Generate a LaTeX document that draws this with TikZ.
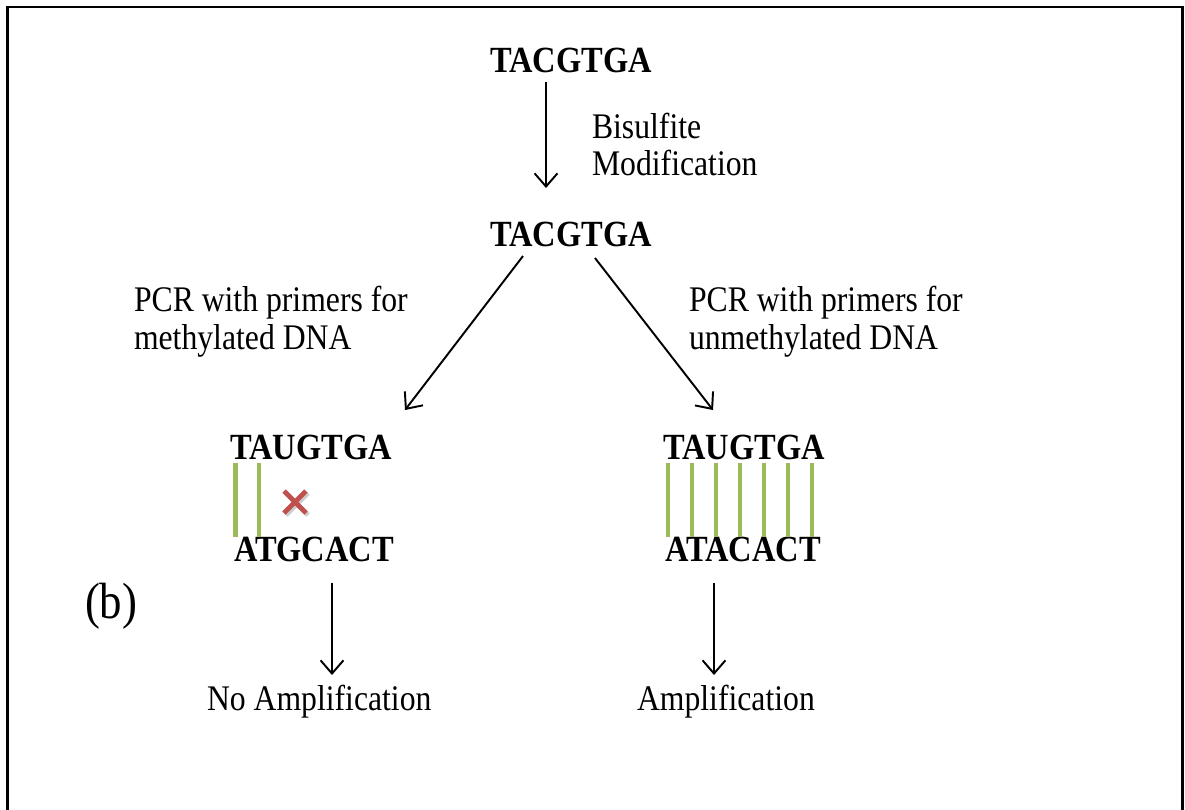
\documentclass[tikz,border=0pt]{standalone}
\usepackage{fontspec}
\setmainfont[FakeStretch=0.88]{Liberation Serif}
\usetikzlibrary{arrows.meta}
\definecolor{pairgreen}{HTML}{9BBB59}
\definecolor{crossred}{HTML}{C0504D}
\tikzset{
  seq/.style={font=\fontsize{21}{23}\selectfont\bfseries},
  lbl/.style={font=\fontsize{20.5}{22}\selectfont},
  arr/.style={line width=1.1pt, -{Straight Barb[length=7.5pt,width=13pt]}}
}
\begin{document}
\begin{tikzpicture}[x=0.02cm, y=-0.02cm, every node/.style={inner sep=0pt, outer sep=0pt, anchor=base west}]
	\useasboundingbox (0,0) rectangle (1185,809);
	
	% frame
	\draw[line width=1.7pt] (7.5,830) -- (7.5,7) -- (1182,7) -- (1182,830);
	
	% bisulfite step
	\node[seq] (orig) at (490,72) {TACGTGA};
	\node[lbl] (bis) at (592,138) {Bisulfite};
	\node[lbl] (modif) at (592,175) {Modification};
	\node[seq] (conv) at (490,246) {TACGTGA};
	\draw[arr] ([shift={(56,10)}]orig.base west) -- ([shift={(56,-58)}]conv.base west);
	
	% PCR branches
	\node[lbl] (pcrm) at (134,311) {PCR with primers for};
	\node[lbl] (pcrm2) at (134,349) {methylated DNA};
	\node[lbl] (pcru) at (689,311) {PCR with primers for};
	\node[lbl] (pcru2) at (689,349) {unmethylated DNA};
	
	\node[seq] (topl) at (230,459) {TAUGTGA};
	\node[seq] (botl) at (234,561) {ATGCACT};
	\node[seq] (topr) at (663,459) {TAUGTGA};
	\node[seq] (botr) at (665,561) {ATACACT};
	\draw[arr] ([shift={(33,10)}]conv.base west) -- ([shift={(175,-49)}]topl.base west);
	\draw[arr] ([shift={(105,12)}]conv.base west) -- ([shift={(50,-49)}]topr.base west);
	
	% base pairing
	\foreach \x in {235.5,259}
		\draw[pairgreen, line width=2.8pt] (\x,463) -- (\x,537);
	\foreach \x in {668,692,716,740,764,788,812}
		\draw[pairgreen, line width=2.8pt] (\x,463) -- (\x,537);
	\draw[black!20, line width=2.8pt] (286,493) -- (308,515) (308,493) -- (286,515);
	\draw[crossred, line width=2.8pt] (284,491) -- (306,513) (306,491) -- (284,513);
	
	\node[font=\fontsize{29}{31}\selectfont] (lab) at (85,618) {(b)};
	
	% results
	\node[lbl] (noamp) at (207,710) {No Amplification};
	\node[lbl] (amp) at (637,710) {Amplification};
	\draw[arr] ([shift={(98,22)}]botl.base west) -- ([shift={(125,-35)}]noamp.base west);
	\draw[arr] ([shift={(49,22)}]botr.base west) -- ([shift={(77,-35)}]amp.base west);
	
\end{tikzpicture}
\end{document}
